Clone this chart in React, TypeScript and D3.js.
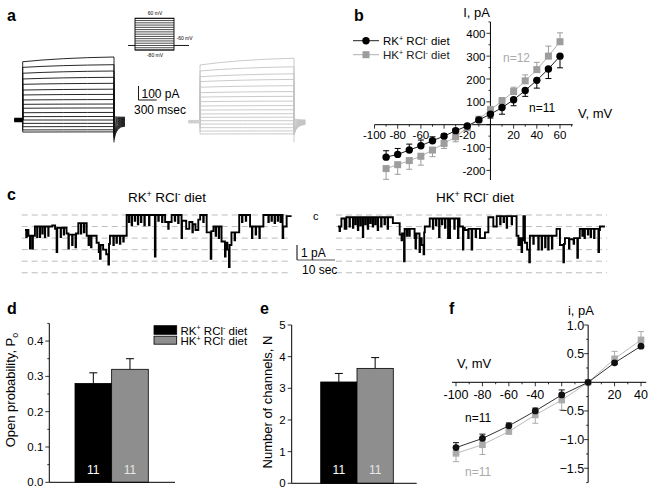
import React from "react";
import * as d3 from "d3";

const FONT = '"Liberation Sans", Arial, Helvetica, sans-serif';

// ---------- Panel a: whole-cell current traces (pA) ----------
const stepWindowMs = [0, 1500];
const holdWindowMs = [-140, 0];
const tailWindowMs = [1500, 1680];
const blackStepStart = [416, 376, 334, 293, 255, 214, 179, 143, 112, 84, 52, 24, 0, -24, -48, -71, -86];
const blackStepEnd = [450, 395, 350, 305, 262, 220, 183, 146, 114, 86, 54, 25, 0, -24, -47, -70, -85];
const blackTailStart = [24, 14, 4, -6, -16, -26, -36, -46, -56, -66, -76, -86, -96, -106, -118, -130, -143];
const blackTailEnd = [20, 16, 12, 8, 4, 0, -4, -8, -12, -16, -20, -24, -28, -32, -36, -40, -44];
const grayStepStart = [393, 350, 309, 274, 234, 195, 164, 131, 100, 71, 43, 19, -5, -29, -55, -79, -100];
const grayStepEnd = [441, 380, 330, 290, 245, 203, 169, 135, 103, 73, 45, 20, -5, -29, -55, -78, -99];
const grayTailStart = [10, 2, -6, -14, -22, -30, -38, -46, -54, -62, -70, -78, -85, -92, -98, -104, -110];
const grayTailEnd = [0, -2, -4, -6, -8, -10, -12, -14, -16, -18, -20, -22, -24, -26, -28, -30, -32];
const grayHold = -12;
const protocolVolt = [-80, -70, -60, -50, -40, -30, -20, -10, 0, 10, 20, 30, 40, 50, 60];
const holdVolt = -60;

// ---------- Panel b: macroscopic I-V ----------
const ivVolt = [-90, -80, -70, -60, -50, -40, -30, -20, -10, 0, 10, 20, 30, 40, 50, 60];
const ivRK = [-142, -130, -111, -92, -70, -50, -26, -6, 21, 46, 75, 109, 150, 194, 244, 300];
const ivRKerr = [28, 26, 26, 25, 17, 10, 8, 5, 5, 17, 29, 26, 26, 34, 42, 51];
const ivHK = [-192, -175, -157, -138, -111, -82, -53, -13, 24, 65, 104, 145, 192, 241, 300, 363];
const ivHKerr = [47, 42, 38, 39, 29, 22, 22, 5, 5, 15, 15, 19, 26, 32, 44, 39];
const bXTicks = [-100, -80, -60, -20, 20, 40, 60];
const bYTicks = [-200, -100, 100, 200, 300, 400];

// ---------- Panel c: single-channel records (open-channel level per sample) ----------
const SAMPLE_SEC = 0.816;
const UNITARY_PA = 0.77;
const channelLevels = [0, 1, 2, 3, 4, 5];
const traceRK: [number, number][] = [
  [0, 1.3], [0.4, 1.9], [0.55, 1.3], [1.1, 1.8], [1.6, 2.9], [1.75, 1.8], [2.4, 2.9], [2.55, 1.8], [3.2, 1.0],
  [3.9, 1.9], [4.0, 1.0], [4.8, 1.9], [4.9, 1.0], [5.6, 1.6], [5.7, 1.0], [6.4, 1.9], [6.5, 1.0], [7.5, 1.8],
  [7.6, 1.0], [8.8, 0.9], [9.7, 1.2], [10.2, 3.2], [10.4, 1.1], [11.5, 1.9], [11.6, 1.1], [12.5, 1.7],
  [12.6, 1.1], [13.4, 1.6], [14, 2.9], [14.15, 1.7], [15.2, 2.6], [15.35, 1.7], [16.3, 2.8], [16.45, 1.6],
  [17.2, 0.7], [18.0, 1.6], [18.15, 0.7], [19.0, 1.5], [19.15, 0.7], [19.9, 1.8], [20.5, 2.6], [20.65, 1.8],
  [21.3, 2.8], [21.45, 1.8], [23.1, 2.4], [23.8, 3.2], [24.2, 3.8], [24.4, 2.6], [25.2, 3.0], [26.2, 3.4],
  [26.9, 4.3], [27.1, 2.5], [27.4, 1.8], [28.5, 2.6], [28.65, 1.8], [29.5, 2.4], [29.65, 1.8], [30.6, 2.5],
  [30.75, 1.8], [31.7, 2.3], [31.85, 1.8], [32.8, 0], [33.5, 0.6], [33.65, 0], [34.4, 0.9], [34.55, 0],
  [35.4, 0.5], [35.55, 0], [36.4, 0.8], [36.55, 0], [37.4, 0.6], [37.55, 0], [38.5, 0.9], [38.65, 0],
  [40.0, 0.9], [40.15, 0], [41.9, 3.6], [42.1, 0], [43, 0.5], [43.15, 0], [44.2, 0.6], [44.35, 0], [45.2, 0.6],
  [46.2, 1.2], [46.35, 0.6], [47.3, 0], [48.3, 0.5], [48.45, 0], [49.4, 0.7], [49.55, 0], [50.5, 2.0],
  [50.65, 0.5], [52.0, 1.2], [53, 0.6], [54, 1.5], [54.15, 0.8], [55, 1.3], [55.9, 0.4], [56.5, 0], [57.5, 0.6],
  [57.65, 0], [58.6, 1.5], [59.9, 3.8], [60.1, 1.4], [60.8, 1.0], [61.5, 1.8], [61.65, 1.0], [62.5, 2.0],
  [62.65, 1.0], [63.4, 2.3], [64.5, 3.6], [64.7, 2.4], [65.3, 3.0], [65.8, 4.5], [66.0, 2.6], [66.6, 1.5],
  [67.6, 2.2], [67.75, 1.5], [69.1, 0], [70, 0.6], [70.15, 0], [71.2, 0.5], [71.35, 0], [72.6, 1.0],
  [73.2, 2.0], [73.35, 1.0], [74.4, 1.7], [74.55, 1.0], [75.6, 2.0], [75.75, 1.0], [76.9, 0], [78.5, 0.6],
  [78.65, 0], [79.5, 0.5], [79.65, 0], [80.5, 0.7], [80.65, 0], [81.5, 0.5], [81.65, 0], [82.4, 0.6],
  [82.55, 0], [83.1, 2.0], [83.3, 1.0], [84.4, 0.1], [86, 0.1],
];
const traceHK: [number, number][] = [
  [0, 1.0], [0.5, 1.4], [0.65, 1.0], [1.1, 0.3], [2.15, 1.2], [2.7, 0.2], [3.7, 1.0], [3.85, 0.2], [4.8, 1.1],
  [4.95, 0.2], [5.6, 0.8], [5.75, 0.2], [6.4, 1.3], [6.55, 0.2], [7.2, 0.9], [7.35, 0.2], [8.0, 1.9],
  [8.15, 0.2], [8.8, 0.8], [8.95, 0.2], [9.6, 1.2], [9.75, 0.2], [10.4, 0.7], [10.55, 0.2], [11.2, 1.0],
  [11.35, 0.2], [12.0, 0.8], [12.15, 0.2], [12.8, 1.3], [12.95, 0.2], [13.9, 1.0], [14.05, 0.2], [15.0, 0.8],
  [15.15, 0.2], [16.0, 1.2], [16.15, 0.2], [17.7, 0.7], [19.9, 1.7], [20.5, 2.2], [20.65, 1.6], [21.3, 4.0],
  [21.5, 1.2], [22.2, 1.8], [22.35, 1.2], [23.0, 1.8], [23.15, 1.2], [24.7, 2.0], [25.0, 2.9], [25.15, 2.0],
  [25.3, 1.6], [26.3, 3.2], [26.45, 2.0], [27.0, 2.6], [27.6, 3.4], [27.8, 1.5], [28, 1.0], [29.6, 0.3],
  [30.6, 1.2], [30.75, 0.3], [31.6, 0.9], [31.75, 0.3], [32.6, 1.9], [32.75, 0.3], [33.5, 0.8], [33.65, 0.3],
  [34.5, 1.1], [34.65, 0.3], [35.5, 2.0], [35.65, 0.3], [36.0, 2.0], [36.15, 0.3], [37.5, 1.2], [37.65, 0.3],
  [38.7, 2.0], [38.85, 0.3], [39.2, 1.0], [40.3, 3.0], [40.45, 1.1], [40.9, 1.3], [42.0, 2.0], [42.15, 1.2],
  [43.1, 3.0], [43.3, 1.2], [44.4, 1.9], [44.55, 1.2], [45.8, 2.0], [47.4, 1.5], [48.5, 0.2], [50.1, 1.0],
  [51.2, 0.1], [52.3, 0.8], [52.45, 0.1], [53.4, 0.6], [53.55, 0.1], [54.4, 1.1], [54.55, 0.1], [56.0, 0.8],
  [56.15, 0.1], [57.6, 1.8], [58.2, 2.6], [58.6, 2.0], [59.2, 3.2], [59.4, 2.2], [59.8, 0.1], [60.3, 2.4],
  [61.0, 3.0], [61.7, 4.1], [61.9, 1.8], [63.0, 2.5], [63.15, 1.8], [64.6, 3.0], [64.75, 1.8], [65.7, 3.0],
  [65.85, 1.8], [66.8, 2.8], [66.95, 1.8], [67.8, 3.0], [67.95, 1.8], [69, 2.9], [69.15, 1.8], [70.5, 1.2],
  [71.6, 2.6], [72.7, 4.1], [72.9, 2.5], [73.2, 2.0], [74.5, 2.9], [74.65, 2.1], [76.0, 2.5], [76.15, 2.0],
  [77.2, 3.7], [77.4, 2.0], [78.0, 1.2], [78.8, 1.8], [78.95, 1.2], [79.5, 2.0], [79.65, 1.2], [80.6, 1.7],
  [80.75, 1.2], [81.5, 1.9], [81.65, 1.2], [82.6, 2.0], [82.75, 1.2], [84.0, 3.2], [84.2, 1.3], [84.5, 1.0],
  [86.1, 1.0],
];

// ---------- Panels d, e ----------
const groups = ["RK", "HK"];
const poValues = [0.28, 0.32];
const poErrors = [0.03, 0.03];
const nValues = [3.2, 3.63];
const nErrors = [0.27, 0.34];
const nCells = [11, 11];

// ---------- Panel f: single-channel i-V ----------
const ivVoltF = [-100, -80, -60, -40, -20, 0, 20, 40];
const iRK = [-1.14, -0.98, -0.76, -0.5, -0.22, 0, 0.34, 0.63];
const iRKerr = [0.087, 0.075, 0.05, 0.05, 0.087, 0, 0.03, 0.03];
const iHK = [-1.24, -1.09, -0.86, -0.57, -0.31, 0, 0.41, 0.74];
const iHKerr = [0.145, 0.17, 0.03, 0.145, 0.17, 0, 0.13, 0.145];
const fXTicks = [-100, -80, -60, -40, 20, 40];
const fYTicks = [1.0, 0.5, -0.5, -1.0, -1.5];

const GRAY_B = "#9d9d9d";
const GRAY_BAR = "#8e8e8e";
const GRAY_F = "#ababab";

function Diet({ x, y, k, size, fill = "#000", anchor = "start" }: any) {
  const s = size * 0.62;
  const d = size * 0.38;
  return (
    <text x={x} y={y} fontSize={size} fill={fill} textAnchor={anchor} fontFamily={FONT}>
      {k}K<tspan dy={-d} fontSize={s}>+</tspan>
      <tspan dy={d}> RCl</tspan>
      <tspan dy={-d} fontSize={s}>-</tspan>
      <tspan dy={d}> diet</tspan>
    </text>
  );
}

function PanelLabel({ x, y, t }: any) {
  return (
    <text x={x} y={y} fontSize={16} fontWeight="bold" fontFamily={FONT}>
      {t}
    </text>
  );
}

function PanelA() {
  const yA = d3.scaleLinear().domain([0, 100]).range([120, 106]);
  const tb = d3.scaleLinear().domain(stepWindowMs).range([22.7, 114]);
  const tg = d3.scaleLinear().domain(stepWindowMs).range([200, 294]);
  const yP = d3.scaleLinear().domain([-80, 60]).range([50, 18.3]);

  const trace = (t: any, hold: number, s: number, e: number, ts: number, te: number) =>
    `M${t(holdWindowMs[0])},${yA(hold)}L${t(0)},${yA(hold)}L${t(0)},${yA(s)}` +
    `Q${t(600)},${yA(s + (e - s) * 0.8)} ${t(1500)},${yA(e)}` +
    `L${t(1500)},${yA(ts)}Q${t(1530)},${yA(te)} ${t(tailWindowMs[1])},${yA(te)}`;

  return (
    <g>
      <PanelLabel x={7} y={21} t="a" />
      <rect x={135} y={yP(60)} width={39} height={yP(-80) - yP(60)} fill="none" stroke="#000" strokeWidth={0.9} />
      {protocolVolt.map((v) => (
        <line key={v} x1={135} x2={174} y1={yP(v)} y2={yP(v)} stroke="#000" strokeWidth={0.7} />
      ))}
      <line x1={128} x2={135} y1={yP(holdVolt)} y2={yP(holdVolt)} stroke="#000" strokeWidth={0.9} />
      <line x1={174} x2={189} y1={yP(holdVolt)} y2={yP(holdVolt)} stroke="#000" strokeWidth={0.9} />
      <text x={155} y={15} fontSize={5} textAnchor="middle" fontFamily={FONT}>60 mV</text>
      <text x={176.5} y={40} fontSize={5} fontFamily={FONT}>-60 mV</text>
      <text x={155} y={57} fontSize={5} textAnchor="middle" fontFamily={FONT}>-80 mV</text>

      {blackStepStart.map((s, i) => (
        <path key={"b" + i} d={trace(tb, 0, s, blackStepEnd[i], blackTailStart[i], blackTailEnd[i])}
          fill="none" stroke="#111" strokeWidth={0.9} />
      ))}
      <line x1={tb(holdWindowMs[0])} x2={tb(0)} y1={yA(0)} y2={yA(0)} stroke="#000" strokeWidth={4.5} />
      <line x1={tb(1500)} x2={tb(1500)} y1={yA(-143)} y2={yA(-160)} stroke="#000" strokeWidth={0.9} />
      {grayStepStart.map((s, i) => (
        <path key={"g" + i} d={trace(tg, grayHold, s, grayStepEnd[i], grayTailStart[i], grayTailEnd[i])}
          fill="none" stroke="#c4c4c4" strokeWidth={0.9} />
      ))}
      <line x1={tg(holdWindowMs[0]) - 3} x2={tg(0)} y1={yA(grayHold)} y2={yA(grayHold)} stroke="#cfcfcf" strokeWidth={3.5} />
      <line x1={tg(1500)} x2={tg(1500)} y1={yA(-110)} y2={yA(-160)} stroke="#c4c4c4" strokeWidth={0.9} />

      <line x1={138.5} x2={138.5} y1={yA(100)} y2={yA(0)} transform={`translate(0,${100 - yA(0)})`} stroke="#000" strokeWidth={0.9} />
      <line x1={138.5} x2={138.5 + (tb(300) - tb(0))} y1={100} y2={100} stroke="#000" strokeWidth={0.9} />
      <text x={141.5} y={97.5} fontSize={12} fontFamily={FONT}>100 pA</text>
      <text x={134} y={113.5} fontSize={12} fontFamily={FONT}>300 msec</text>
    </g>
  );
}

function PanelB() {
  const x = d3.scaleLinear().domain([-100, 60]).range([374.5, 560]);
  const y = d3.scaleLinear().domain([0, 400]).range([124.7, 33.3]);
  const y0 = y(0);
  const x0 = x(0);
  const line = d3.line<number>().x((_, i) => x(ivVolt[i])).y((d) => y(d));
  const series = [
    { vals: ivHK, err: ivHKerr, other: ivRK, color: GRAY_B, lineColor: "#b0b0b0", sq: true },
    { vals: ivRK, err: ivRKerr, other: ivHK, color: "#000", lineColor: "#222", sq: false },
  ];
  return (
    <g fontFamily={FONT}>
      <PanelLabel x={354} y={21} t="b" />
      <line x1={x(-100)} x2={x(71)} y1={y0} y2={y0} stroke="#000" strokeWidth={1} />
      <line x1={x0} x2={x0} y1={y(450)} y2={y(-242)} stroke="#000" strokeWidth={1} />
      {d3.range(-100, 71, 10).map((v) => (
        <line key={"xt" + v} x1={x(v)} x2={x(v)} y1={y0} y2={y0 + (v % 20 === 0 ? 4 : 2)} stroke="#000" strokeWidth={0.8} />
      ))}
      {d3.range(-200, 451, 50).map((v) => (
        <line key={"yt" + v} x1={x0} x2={x0 - (v % 100 === 0 ? 4 : 2)} y1={y(v)} y2={y(v)} stroke="#000" strokeWidth={0.8} />
      ))}
      {bXTicks.map((v) => (
        <text key={"xl" + v} x={x(v)} y={y0 + 14.5} fontSize={11.5} textAnchor="middle">{v}</text>
      ))}
      {bYTicks.map((v) => (
        <text key={"yl" + v} x={x0 - 5} y={y(v) + 4.5} fontSize={11.5} textAnchor="end">{v}</text>
      ))}
      <text x={490} y={17} fontSize={13} textAnchor="end">I, pA</text>
      <text x={578} y={118} fontSize={13}>V, mV</text>
      <text x={503} y={62} fontSize={12} fill="#aaa">n=12</text>
      <text x={529} y={112} fontSize={12}>n=11</text>

      {series.map((s, si) => (
        <g key={si}>
          <path d={line(s.vals) || ""} fill="none" stroke={s.lineColor} strokeWidth={1} />
          {s.vals.map((v, i) => {
            const dir = v >= s.other[i] ? 1 : -1;
            const ye = y(v + dir * s.err[i]);
            return (
              <g key={i} stroke={s.color} strokeWidth={1}>
                <line x1={x(ivVolt[i])} x2={x(ivVolt[i])} y1={y(v)} y2={ye} />
                <line x1={x(ivVolt[i]) - 3} x2={x(ivVolt[i]) + 3} y1={ye} y2={ye} />
              </g>
            );
          })}
          {s.vals.map((v, i) =>
            s.sq ? (
              <rect key={"m" + i} x={x(ivVolt[i]) - 3.5} y={y(v) - 3.5} width={7} height={7} fill={s.color} />
            ) : (
              <circle key={"m" + i} cx={x(ivVolt[i])} cy={y(v)} r={3.7} fill={s.color} />
            )
          )}
        </g>
      ))}

      <line x1={353} x2={379} y1={40.7} y2={40.7} stroke="#222" strokeWidth={1} />
      <circle cx={366} cy={40.7} r={3.7} fill="#000" />
      <Diet x={383} y={45} k="R" size={11.5} />
      <line x1={353} x2={379} y1={54.7} y2={54.7} stroke="#b0b0b0" strokeWidth={1} />
      <rect x={362.5} y={51.2} width={7} height={7} fill={GRAY_B} />
      <Diet x={383} y={59} k="H" size={11.5} fill="#222" />
    </g>
  );
}

function PanelC() {
  const dur = 86 * SAMPLE_SEC;
  const xL = d3.scaleLinear().domain([0, dur]).range([25, 291.6]);
  const xR = d3.scaleLinear().domain([0, dur]).range([338, 604.6]);
  const y = d3.scaleLinear().domain([0, -1]).range([215, 230]);
  const mk = (xs: any) =>
    d3.line<[number, number]>().x((d) => xs(d[0] * SAMPLE_SEC)).y((d) => y(-d[1] * UNITARY_PA)).curve(d3.curveStepAfter);
  const barX = 297;
  return (
    <g fontFamily={FONT}>
      <PanelLabel x={7} y={200} t="c" />
      <Diet x={167} y={202} k="R" size={13.5} anchor="middle" />
      <Diet x={475} y={202} k="H" size={13.5} anchor="middle" />
      {channelLevels.map((l) => (
        <g key={l}>
          <line x1={21.7} x2={290} y1={y(-l * UNITARY_PA)} y2={y(-l * UNITARY_PA)} stroke="#bdbdbd" strokeWidth={1} strokeDasharray="6,4" />
          <line x1={336} x2={607} y1={y(-l * UNITARY_PA)} y2={y(-l * UNITARY_PA)} stroke="#bdbdbd" strokeWidth={1} strokeDasharray="6,4" />
        </g>
      ))}
      <path d={mk(xL)(traceRK) || ""} fill="none" stroke="#000" strokeWidth={1.9} />
      <path d={mk(xR)(traceHK) || ""} fill="none" stroke="#000" strokeWidth={1.9} />
      <text x={313} y={220} fontSize={11}>c</text>
      <line x1={barX} x2={barX} y1={y(-2)} y2={y(-3)} stroke="#000" strokeWidth={1} />
      <line x1={barX} x2={barX + (xL(10) - xL(0))} y1={y(-3)} y2={y(-3)} stroke="#555" strokeWidth={1} />
      <text x={301} y={257} fontSize={12}>1 pA</text>
      <text x={302} y={274} fontSize={12}>10 sec</text>
    </g>
  );
}

function BarPanel({ label, lx, axisX, axisRight, bandRange, domainTop, y0px, ytopPx, values, errors, ticks, minor, fmt, ylabel, ylabelX, ylabelY, sub }: any) {
  const y = d3.scaleLinear().domain([0, domainTop]).range([y0px, ytopPx]);
  const x = d3.scaleBand().domain(groups).range(bandRange).padding(0);
  return (
    <g fontFamily={FONT}>
      <PanelLabel x={lx} y={314} t={label} />
      {groups.map((g, i) => {
        const ye = y(values[i] + errors[i]);
        const cx = (x(g) as number) + x.bandwidth() / 2;
        return (
          <g key={g}>
            <line x1={cx} x2={cx} y1={y(values[i])} y2={ye} stroke="#000" strokeWidth={1} />
            <line x1={cx - 4} x2={cx + 4} y1={ye} y2={ye} stroke="#000" strokeWidth={1} />
            <rect x={x(g)} y={y(values[i])} width={x.bandwidth()} height={y(0) - y(values[i])}
              fill={i === 0 ? "#000" : GRAY_BAR} stroke="#000" strokeWidth={0.8} />
            <text x={cx} y={474} fontSize={12} textAnchor="middle" fill={i === 0 ? "#fff" : "#e6e6e6"}>{nCells[i]}</text>
          </g>
        );
      })}
      <line x1={axisX} x2={axisX} y1={y(0)} y2={y(domainTop)} stroke="#000" strokeWidth={1} />
      <line x1={axisX} x2={axisRight} y1={y(0)} y2={y(0)} stroke="#000" strokeWidth={1} />
      {minor.map((v: number) => (
        <line key={"m" + v} x1={axisX} x2={axisX - 2} y1={y(v)} y2={y(v)} stroke="#000" strokeWidth={0.8} />
      ))}
      {ticks.map((v: number) => (
        <g key={v}>
          <line x1={axisX} x2={axisX - 4} y1={y(v)} y2={y(v)} stroke="#000" strokeWidth={0.8} />
          <text x={axisX - 6} y={y(v) + 4} fontSize={11.5} textAnchor="end">{fmt(v)}</text>
        </g>
      ))}
      <text transform={`translate(${ylabelX},${ylabelY}) rotate(-90)`} fontSize={13} textAnchor="middle">
        {ylabel}
        {sub ? <tspan dy={3} fontSize={9}>{sub}</tspan> : null}
      </text>
    </g>
  );
}

function PanelF() {
  const x = d3.scaleLinear().domain([-100, 40]).range([456, 641]);
  const y = d3.scaleLinear().domain([0, 1]).range([382.3, 325]);
  const x0 = x(0);
  const y0 = y(0);
  const line = d3.line<number>().x((_, i) => x(ivVoltF[i])).y((d) => y(d));
  const series = [
    { vals: iHK, err: iHKerr, other: iRK, color: GRAY_F, lineColor: "#bbbbbb", sq: true },
    { vals: iRK, err: iRKerr, other: iHK, color: "#111", lineColor: "#333", sq: false },
  ];
  return (
    <g fontFamily={FONT}>
      <PanelLabel x={449} y={314} t="f" />
      <line x1={x(-103)} x2={x(44)} y1={y0} y2={y0} stroke="#000" strokeWidth={1} />
      <line x1={x0} x2={x0} y1={y(1)} y2={y(-1.75)} stroke="#000" strokeWidth={1} />
      {d3.range(-100, 41, 10).map((v) => (
        <line key={"xt" + v} x1={x(v)} x2={x(v)} y1={y0} y2={y0 + (v % 20 === 0 ? 4 : 2)} stroke="#000" strokeWidth={0.8} />
      ))}
      {d3.range(-1.75, 1.01, 0.25).map((v) => (
        <line key={"yt" + v} x1={x0} x2={x0 - (Math.abs((v * 2) % 1) < 1e-6 ? 4 : 2)} y1={y(v)} y2={y(v)} stroke="#000" strokeWidth={0.8} />
      ))}
      {fXTicks.map((v) => (
        <text key={"xl" + v} x={x(v)} y={y0 + 17} fontSize={12.5} textAnchor="middle">{v}</text>
      ))}
      {fYTicks.map((v) => (
        <text key={"yl" + v} x={x0 - 4} y={y(v) + 4.5} fontSize={12.5} textAnchor="end">{d3.format(".1f")(v)}</text>
      ))}
      <text x={594} y={315} fontSize={13} textAnchor="end">i, pA</text>
      <text x={457} y={368} fontSize={13}>V, mV</text>
      <text x={465} y={422} fontSize={12}>n=11</text>
      <text x={465} y={476} fontSize={12} fill="#aaa">n=11</text>
      {series.map((s, si) => (
        <g key={si}>
          <path d={line(s.vals) || ""} fill="none" stroke={s.lineColor} strokeWidth={1} />
          {s.vals.map((v, i) => {
            if (s.err[i] === 0) return null;
            const dir = v >= s.other[i] ? 1 : -1;
            const ye = y(v + dir * s.err[i]);
            return (
              <g key={i} stroke={s.color} strokeWidth={1}>
                <line x1={x(ivVoltF[i])} x2={x(ivVoltF[i])} y1={y(v)} y2={ye} />
                <line x1={x(ivVoltF[i]) - 3} x2={x(ivVoltF[i]) + 3} y1={ye} y2={ye} />
              </g>
            );
          })}
          {s.vals.map((v, i) =>
            s.sq ? (
              <rect key={"m" + i} x={x(ivVoltF[i]) - 3.3} y={y(v) - 3.3} width={6.6} height={6.6} fill={s.color} />
            ) : (
              <circle key={"m" + i} cx={x(ivVoltF[i])} cy={y(v)} r={3.4} fill={s.color} />
            )
          )}
        </g>
      ))}
    </g>
  );
}

export default function App() {
  return (
    <svg width={654} height={495} style={{ position: "absolute", left: 0, top: 0, background: "#fff" }} fontFamily={FONT}>
      <rect width={654} height={495} fill="#fff" />
      <PanelA />
      <PanelB />
      <PanelC />
      <BarPanel label="d" lx={7} axisX={49.3} axisRight={175} bandRange={[75, 148.3]} domainTop={0.45}
        y0px={482.3} ytopPx={323.4} values={poValues} errors={poErrors}
        ticks={[0, 0.1, 0.2, 0.3, 0.4]} minor={[0.05, 0.15, 0.25, 0.35, 0.45]} fmt={d3.format(".1f")}
        ylabel="Open probability, P" sub="o" ylabelX={15} ylabelY={390} />
      <g fontFamily={FONT}>
        <rect x={154} y={325.7} width={22.7} height={8.6} fill="#000" stroke="#000" strokeWidth={0.8} />
        <rect x={154} y={336.2} width={22.7} height={8} fill={GRAY_BAR} stroke="#000" strokeWidth={0.8} />
        <Diet x={180.5} y={334.5} k="R" size={11.5} />
        <Diet x={180.5} y={345} k="H" size={11.5} />
      </g>
      <BarPanel label="e" lx={260} axisX={291.7} axisRight={416.7} bandRange={[320.7, 393.3]} domainTop={5}
        y0px={483.3} ytopPx={325} values={nValues} errors={nErrors}
        ticks={[0, 1, 2, 3, 4, 5]} minor={[]} fmt={d3.format("d")}
        ylabel="Number of channels, N" ylabelX={272} ylabelY={402} />
      <PanelF />
    </svg>
  );
}
